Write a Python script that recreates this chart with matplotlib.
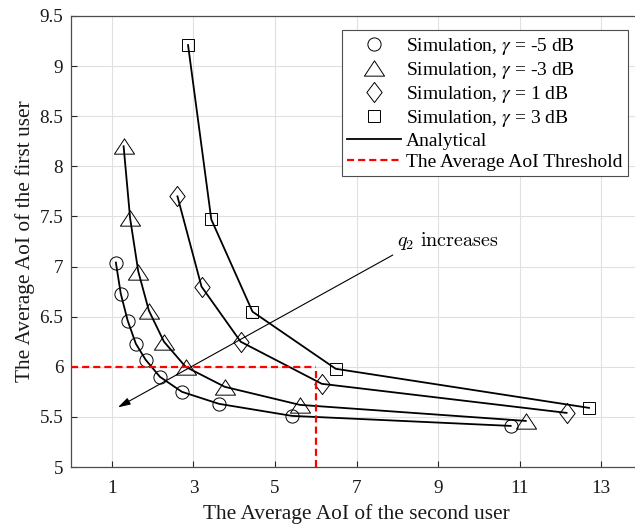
import matplotlib
matplotlib.use('Agg')
import matplotlib.pyplot as plt
from matplotlib.path import Path

plt.rcParams['font.family'] = ['Liberation Serif', 'DejaVu Serif']
plt.rcParams['mathtext.fontset'] = 'stix'

# simulation / analytical points (x: AoI of second user, y: AoI of first user)
x_m5 = [1.10, 1.22, 1.39, 1.59, 1.83, 2.18, 2.72, 3.63, 5.42, 10.78]
y_m5 = [7.04, 6.73, 6.46, 6.23, 6.07, 5.90, 5.75, 5.63, 5.51, 5.41]

x_m3 = [1.29, 1.45, 1.65, 1.91, 2.28, 2.81, 3.77, 5.61, 11.15]
y_m3 = [8.20, 7.48, 6.95, 6.56, 6.25, 6.00, 5.80, 5.62, 5.46]

x_p1 = [2.61, 3.20, 4.16, 6.15, 12.15]
y_p1 = [7.70, 6.80, 6.25, 5.83, 5.54]

x_p3 = [2.87, 3.44, 4.45, 6.49, 12.70]
y_p3 = [9.21, 7.47, 6.55, 5.98, 5.59]

threshold = 6.0
xticks = [1, 3, 5, 7, 9, 11, 13]
yticks = [5, 5.5, 6, 6.5, 7, 7.5, 8, 8.5, 9, 9.5]

tri = Path([(0, 0.76), (-1, -0.76), (1, -0.76), (0, 0.76)], closed=True)
dia = Path([(0, 1), (0.76, 0), (0, -1), (-0.76, 0), (0, 1)], closed=True)

fig = plt.figure(figsize=(6.35, 5.27), dpi=100)
ax = fig.add_axes([71 / 635, 1 - 467 / 527, (642 - 71) / 635, 451 / 527])

sims = [
    (x_m5, y_m5, 'o', 9.5, r'Simulation, $\gamma$ = -5 dB'),
    (x_m3, y_m3, tri, 14.5, r'Simulation, $\gamma$ = -3 dB'),
    (x_p1, y_p1, dia, 14.5, r'Simulation, $\gamma$ = 1 dB'),
    (x_p3, y_p3, 's', 9.0, r'Simulation, $\gamma$ = 3 dB'),
]
handles = []
for xs, ys, mk, ms, lab in sims:
    h, = ax.plot(xs, ys, linestyle='none', marker=mk, markersize=ms,
                 markerfacecolor='none', markeredgecolor='black',
                 markeredgewidth=0.7, label=lab, zorder=3)
    handles.append(h)

for xs, ys, mk, ms, lab in sims:
    h_an, = ax.plot(xs, ys, color='black', lw=1.3, label='Analytical', zorder=4)
handles.append(h_an)

h_th, = ax.plot([0, 6], [threshold, threshold], color='red', lw=1.6,
                linestyle=(0, (3.2, 1.8)), label='The Average AoI Threshold', zorder=5)
ax.plot([6, 6], [5, threshold], color='red', lw=1.6, linestyle=(0, (3.2, 1.8)), zorder=5)
handles.append(h_th)

ax.annotate('', xy=(1.15, 5.595), xytext=(7.89, 7.115),
            arrowprops=dict(arrowstyle='-|>,head_length=0.75,head_width=0.22',
                            color='black', lw=0.8, shrinkA=0, shrinkB=0), zorder=6)
ax.text(7.99, 7.25, r'$q_2\ \mathrm{increases}$', fontsize=14.5, va='center', ha='left',
        math_fontfamily='cm')

ax.set_xlim(0, 14)
ax.set_ylim(5, 9.5)
ax.set_xticks(xticks)
ax.set_yticks(yticks)
ax.set_yticklabels(['5', '5.5', '6', '6.5', '7', '7.5', '8', '8.5', '9', '9.5'])
ax.tick_params(direction='in', labelsize=13.8, length=4, width=0.8, colors='0.15')
ax.tick_params(labelcolor='0.1')
ax.tick_params(axis='x', pad=9.5)
ax.tick_params(axis='y', pad=5.5)
ax.grid(True, color='0.88', lw=0.8)
ax.set_axisbelow(True)
for s in ax.spines.values():
    s.set_color('0.3')
    s.set_linewidth(0.9)

ax.set_xlabel('The Average AoI of the second user', fontsize=15.4, color='0.1', labelpad=5)
ax.set_ylabel('The Average AoI of the first user', fontsize=15.4, color='0.1', labelpad=3)

leg = ax.legend(handles=handles, loc='upper right', bbox_to_anchor=(628 / 635, 1 - 30 / 527),
                bbox_transform=fig.transFigure, borderaxespad=0, fontsize=14.0,
                fancybox=False, framealpha=1, edgecolor='0.3', handlelength=2.75,
                labelspacing=0.16, handletextpad=0.25, borderpad=0.3)
leg.get_frame().set_linewidth(0.8)

fig.savefig('out.png', dpi=100)
